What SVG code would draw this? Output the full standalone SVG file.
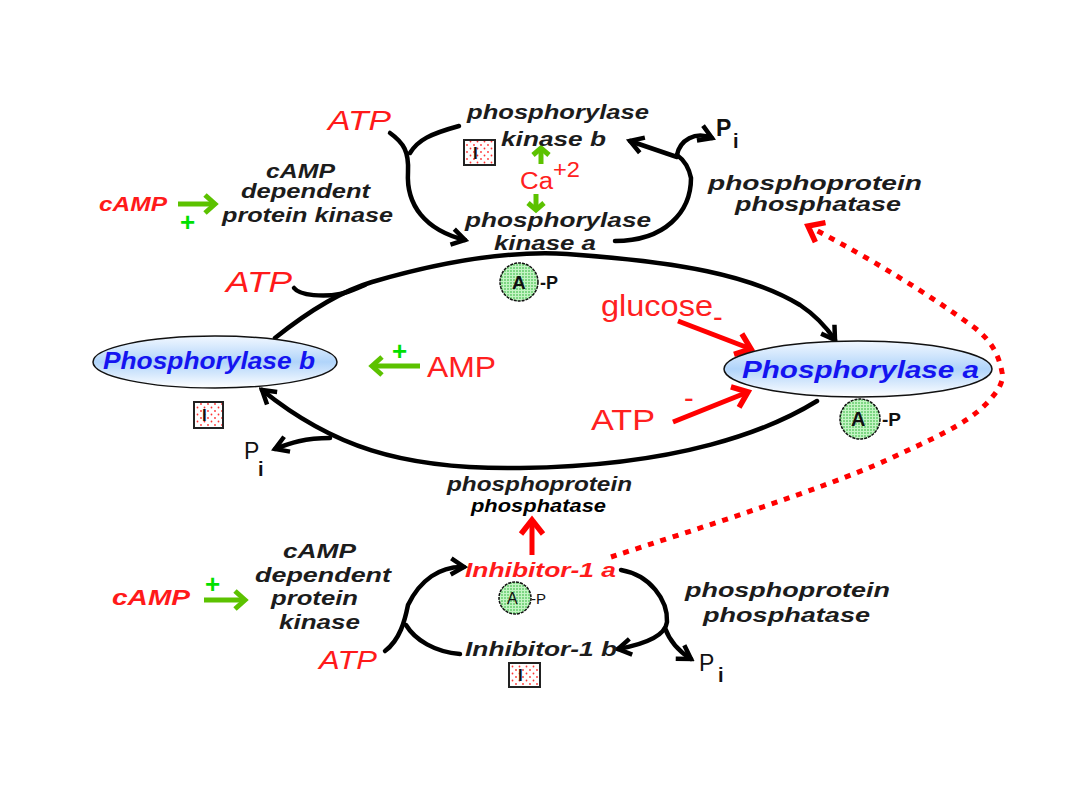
<svg xmlns="http://www.w3.org/2000/svg" width="1080" height="810" viewBox="0 0 1080 810">
<style>
text{font-family:"Liberation Sans",Arial,sans-serif}
.e{font-style:italic;font-weight:bold;fill:#1c1c1c;font-size:20px}
.r{font-style:italic;font-weight:bold;fill:#ff1a1a}
.ri{fill:#ff2020;font-size:29px}
.b{font-style:italic;font-weight:bold;fill:#1414f0;font-size:23px}
.k{font-weight:bold;fill:#111}
.pl{font-weight:bold;fill:#00e000;font-size:26px}
.c{fill:none;stroke:#000;stroke-width:4.5;stroke-linecap:round}
.g{fill:none;stroke:#5cc200;stroke-width:5}
.rd{fill:none;stroke:#ff0000;stroke-width:5}
.box{fill:url(#dots);stroke:#222;stroke-width:2}
.cir{fill:url(#gdots);stroke:#111;stroke-width:1.5;stroke-dasharray:3 1}
.el{fill:url(#blue);stroke:#111;stroke-width:1.5}
</style>
<defs>
<linearGradient id="blue" x1="0" y1="0" x2="0" y2="1"><stop offset="0" stop-color="#f2f8ff"/><stop offset="0.5" stop-color="#b0d4fa"/><stop offset="1" stop-color="#ffffff"/></linearGradient>
<pattern id="dots" width="7" height="7" patternUnits="userSpaceOnUse"><rect width="7" height="7" fill="#fff"/><circle cx="1.5" cy="1.5" r="0.9" fill="#f33"/><circle cx="5" cy="5" r="0.9" fill="#f33"/></pattern>
<pattern id="gdots" width="3" height="3" patternUnits="userSpaceOnUse"><rect width="3" height="3" fill="#c4f4c4"/><circle cx="1" cy="1" r="0.8" fill="#22b030"/></pattern>
<marker id="ah" markerUnits="userSpaceOnUse" markerWidth="24" markerHeight="24" refX="20" refY="12" orient="auto"><path d="M7 4 L20 12 L7 20" fill="none" stroke="#000" stroke-width="4.5"/></marker>
<marker id="ag" markerUnits="userSpaceOnUse" markerWidth="24" markerHeight="24" refX="19" refY="12" orient="auto"><path d="M9 3 L19 12 L9 21" fill="none" stroke="#5cc200" stroke-width="5"/></marker>
<marker id="ags" markerUnits="userSpaceOnUse" markerWidth="20" markerHeight="20" refX="15" refY="10" orient="auto"><path d="M8 2 L15 10 L8 18" fill="none" stroke="#5cc200" stroke-width="5"/></marker>
<marker id="ar" markerUnits="userSpaceOnUse" markerWidth="30" markerHeight="30" refX="23" refY="15" orient="auto"><path d="M9 4 L23 15 L9 26" fill="none" stroke="#f00" stroke-width="5.5"/></marker>
</defs>
<rect width="1080" height="810" fill="#fff"/>

<g id="connectors">
<path class="c" marker-end="url(#ah)" d="M390 133C404 143 409 152 408 172C406 205 425 230 465 240"/>
<path class="c" d="M410 153C418 140 430 134 459 126"/>
<path class="c" d="M615 241C665 241 691 212 691 178C689 168 684 160 677 155"/>
<path class="c" marker-end="url(#ah)" d="M677 157L630 141"/>
<path class="c" stroke-width="3.5" marker-end="url(#ah)" d="M677 155C680 140 695 131 712 138"/>
<path class="c" marker-end="url(#ah)" d="M275 338C300 318 335 293 372 282C430 265 500 250 567 254C680 262 750 275 800 305C815 315 825 325 835 340"/>
<path class="c" stroke-width="3.5" d="M294 288C300 296 325 297 340 294C350 292 357 288 365 285"/>
<path class="c" marker-end="url(#ah)" d="M817 401C770 430 680 466 520 468C400 470 330 445 262 390"/>
<path class="c" stroke-width="3.5" marker-end="url(#ah)" d="M330 438C305 438 290 443 275 449"/>
<path class="c" marker-end="url(#ah)" d="M385 651C400 640 405 620 408 605C420 580 440 566 464 567"/>
<path class="c" d="M406 625C415 640 435 652 460 654"/>
<path class="c" marker-end="url(#ah)" d="M621 570C650 575 668 600 667 622C665 638 640 645 618 649"/>
<path class="c" marker-end="url(#ah)" d="M665 628C670 642 680 652 691 659"/>
<path class="g" marker-end="url(#ag)" d="M178 204H215"/>
<path class="g" marker-end="url(#ag)" d="M420 366H372"/>
<path class="g" marker-end="url(#ag)" d="M204 600H245"/>
<path class="g" marker-end="url(#ags)" d="M541 164V148"/>
<path class="g" marker-end="url(#ags)" d="M536 194V210"/>
<path class="rd" marker-end="url(#ar)" d="M678 321L751 349"/>
<path class="rd" marker-end="url(#ar)" d="M673 422L748 392"/>
<path class="rd" marker-end="url(#ar)" d="M532 555V520"/>
<path class="rd" stroke-dasharray="6 7" marker-end="url(#ar)" d="M611 557C700 528 820 490 887 460C930 440 965 425 985 405C1000 390 1004 380 1002 372C998 352 990 340 975 328C930 295 870 258 808 226"/>
</g>

<g id="phosphorylase-b"><ellipse class="el" cx="215" cy="362" rx="122" ry="26"/><text class="b" x="103" y="369" textLength="212" lengthAdjust="spacingAndGlyphs">Phosphorylase b</text></g>
<g id="phosphorylase-a"><ellipse class="el" cx="858" cy="369" rx="134" ry="28"/><text class="b" x="742" y="378" textLength="237" lengthAdjust="spacingAndGlyphs">Phosphorylase a</text></g>

<g id="phosphorylase-kinase-b"><text class="e" x="467" y="119" textLength="182" lengthAdjust="spacingAndGlyphs">phosphorylase</text><text class="e" x="501" y="146" textLength="105" lengthAdjust="spacingAndGlyphs">kinase b</text><rect class="box" x="464" y="140" width="31" height="25"/><text class="k" x="473" y="159" font-size="17">I</text></g>
<g id="phosphorylase-kinase-a"><text class="e" x="465" y="227" textLength="186" lengthAdjust="spacingAndGlyphs">phosphorylase</text><text class="e" x="494" y="250" textLength="102" lengthAdjust="spacingAndGlyphs">kinase a</text></g>
<g id="ca"><text x="520" y="189" fill="#ff2020" font-size="23" textLength="33" lengthAdjust="spacingAndGlyphs">Ca</text><text x="553" y="177" fill="#ff2020" font-size="22" textLength="27" lengthAdjust="spacingAndGlyphs">+2</text></g>
<g id="atp-top"><text class="r" x="328" y="130" font-size="27" textLength="63" lengthAdjust="spacingAndGlyphs" style="font-weight:normal">ATP</text></g>
<g id="pka-top"><text class="r" x="99" y="211" font-size="20" textLength="68" lengthAdjust="spacingAndGlyphs">cAMP</text><text class="pl" x="180" y="231">+</text><text class="e" x="266" y="178" textLength="69" lengthAdjust="spacingAndGlyphs">cAMP</text><text class="e" x="241" y="198" textLength="129" lengthAdjust="spacingAndGlyphs">dependent</text><text class="e" x="222" y="222" textLength="171" lengthAdjust="spacingAndGlyphs">protein kinase</text></g>
<g id="pi-top"><text class="k" x="716" y="136" font-size="23">P</text><text class="k" x="733" y="148" font-size="20">i</text></g>
<g id="ppp-top"><text class="e" x="708" y="190" textLength="214" lengthAdjust="spacingAndGlyphs">phosphoprotein</text><text class="e" x="735" y="211" textLength="166" lengthAdjust="spacingAndGlyphs">phosphatase</text></g>
<g id="atp-mid"><text class="r" x="226" y="292" font-size="29" textLength="66" lengthAdjust="spacingAndGlyphs" style="font-weight:normal">ATP</text></g>
<g id="ap-top"><circle class="cir" cx="519" cy="282" r="19"/><text class="k" x="512" y="289" font-size="19">A</text><text class="k" x="540" y="289" font-size="18">-P</text></g>
<g id="amp"><text class="ri" x="427" y="377" textLength="69" lengthAdjust="spacingAndGlyphs">AMP</text><text class="pl" x="392" y="360">+</text></g>
<g id="glucose"><text class="ri" x="601" y="316" textLength="112" lengthAdjust="spacingAndGlyphs">glucose</text><text class="ri" x="713" y="327" font-size="24">-</text></g>
<g id="atp-inh"><text class="ri" x="591" y="430" textLength="64" lengthAdjust="spacingAndGlyphs">ATP</text><text class="ri" x="684" y="408" font-size="25">-</text></g>
<g id="ap-a"><circle class="cir" cx="860" cy="419" r="20"/><text class="k" x="851" y="426" font-size="20">A</text><text class="k" x="882" y="426" font-size="19">-P</text></g>
<g id="i-b"><rect class="box" x="194" y="402" width="29" height="26"/><text class="k" x="202" y="421" font-size="17">I</text></g>
<g id="pi-left"><text x="244" y="459" font-size="23" fill="#111">P</text><text class="k" x="258" y="476" font-size="20">i</text></g>
<g id="ppp-mid"><text class="e" x="447" y="491" textLength="185" lengthAdjust="spacingAndGlyphs">phosphoprotein</text><text class="e" x="471" y="512" style="font-size:18px;fill:#000" textLength="135" lengthAdjust="spacingAndGlyphs">phosphatase</text></g>
<g id="inhibitor-1a"><text class="r" x="465" y="577" font-size="21" textLength="151" lengthAdjust="spacingAndGlyphs">Inhibitor-1 a</text><circle class="cir" cx="515" cy="598" r="16"/><text x="507" y="604" font-size="16" fill="#111">A</text><text x="531" y="604" font-size="15" fill="#111">-P</text></g>
<g id="inhibitor-1b"><text class="e" x="465" y="656" style="font-size:21px" textLength="152" lengthAdjust="spacingAndGlyphs">Inhibitor-1 b</text><rect class="box" x="509" y="663" width="31" height="24"/><text class="k" x="518" y="681" font-size="17">I</text></g>
<g id="pka-bottom"><text class="r" x="112" y="605" font-size="22" textLength="78" lengthAdjust="spacingAndGlyphs">cAMP</text><text class="pl" x="205" y="593">+</text><text class="e" x="283" y="558" textLength="73" lengthAdjust="spacingAndGlyphs">cAMP</text><text class="e" x="255" y="582" textLength="136" lengthAdjust="spacingAndGlyphs">dependent</text><text class="e" x="271" y="605" textLength="87" lengthAdjust="spacingAndGlyphs">protein</text><text class="e" x="279" y="629" textLength="81" lengthAdjust="spacingAndGlyphs">kinase</text></g>
<g id="atp-bottom"><text class="r" x="319" y="669" font-size="25" textLength="58" lengthAdjust="spacingAndGlyphs" style="font-weight:normal">ATP</text></g>
<g id="ppp-bottom"><text class="e" x="685" y="597" textLength="205" lengthAdjust="spacingAndGlyphs">phosphoprotein</text><text class="e" x="703" y="622" textLength="167" lengthAdjust="spacingAndGlyphs">phosphatase</text></g>
<g id="pi-bottom"><text x="699" y="671" font-size="23" fill="#111">P</text><text class="k" x="718" y="682" font-size="20">i</text></g>
</svg>
